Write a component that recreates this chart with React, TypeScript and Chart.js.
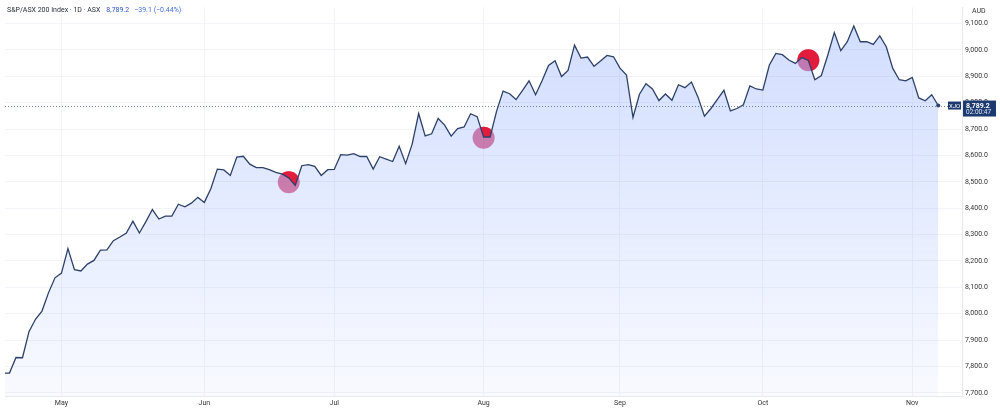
import React, { useEffect, useRef } from "react";
import { Chart, registerables } from "chart.js";

Chart.register(...registerables);

// Daily closes, S&P/ASX 200 (index 0 = mid April, last = Nov 7)
const closes: number[] = [
  7775, 7775, 7834, 7833, 7932, 7979, 8010, 8079, 8136, 8154,
  8247, 8167, 8162, 8188, 8202, 8241, 8242, 8277, 8291, 8306,
  8351, 8306, 8349, 8395, 8359, 8370, 8370, 8415, 8405, 8419,
  8441, 8422, 8474, 8548, 8545, 8524, 8594, 8597, 8567, 8554,
  8554, 8546, 8536, 8529, 8515, 8486, 8561, 8565, 8559, 8524,
  8546, 8547, 8603, 8601, 8607, 8596, 8596, 8548, 8595, 8586,
  8577, 8635, 8569, 8643, 8759, 8674, 8682, 8740, 8715, 8673,
  8702, 8708, 8758, 8747, 8670, 8670, 8768, 8844, 8834, 8812,
  8847, 8883, 8830, 8883, 8941, 8959, 8899, 8922, 9018, 8969,
  8973, 8938, 8958, 8979, 8974, 8931, 8905, 8744, 8832, 8872,
  8852, 8808, 8833, 8809, 8868, 8857, 8878, 8822, 8749, 8778,
  8813, 8847, 8769, 8778, 8792, 8864, 8852, 8848, 8943, 8987,
  8982, 8962, 8949, 8971, 8960, 8887, 8903, 8981, 9066, 8997,
  9031, 9091, 9031, 9031, 9021, 9053, 9012, 8930, 8887, 8883,
  8896, 8818, 8807, 8830, 8789.2,
];

// Month tick labels and the trading-day index at which each month starts
const monthLabels: string[] = ["May", "Jun", "Jul", "Aug", "Sep", "Oct", "Nov"];
const monthStartIdx: number[] = [9, 31, 51, 74, 95, 117, 140];

// Price axis ticks
const priceTicks: number[] = [7700, 7800, 7900, 8000, 8100, 8200, 8300, 8400, 8500, 8600, 8700, 8800, 8900, 9000, 9100];

// Event markers
const markerIdx: number[] = [44, 74, 124];
const markerValue: number[] = [8498, 8667, 8961];

const lastPrice = 8789.2;
const titleMain = "S&P/ASX 200 Index · 1D · ASX";
const titlePrice = "8,789.2";
const titleChange = "−39.1 (−0.44%)";
const symbolLabel = "XJO";
const timeLabel = "02:00:47";
const currencyLabel = "AUD";

const FONT = "Roboto, 'Noto Sans', sans-serif";

const fmt = (v: number) =>
  v.toLocaleString("en-US", { minimumFractionDigits: 1, maximumFractionDigits: 1 });

const markerPlugin = {
  id: "markers",
  beforeDatasetsDraw(chart: any) {
    const { ctx, chartArea, scales } = chart;
    const meta = chart.getDatasetMeta(0);
    const pts = meta.data;
    ctx.save();
    ctx.beginPath();
    ctx.rect(chartArea.left, chartArea.top, chartArea.right - chartArea.left, chartArea.bottom - chartArea.top);
    ctx.clip();
    markerIdx.forEach((idx, k) => {
      const cx = scales.x.getPixelForValue(idx);
      const cy = scales.y.getPixelForValue(markerValue[k]);
      ctx.beginPath();
      ctx.arc(cx, cy, 11, 0, Math.PI * 2);
      ctx.fillStyle = "rgba(214, 62, 112, 0.66)";
      ctx.fill();
      ctx.save();
      ctx.beginPath();
      ctx.moveTo(pts[0].x, chartArea.top - 5);
      for (const p of pts) ctx.lineTo(p.x, p.y);
      ctx.lineTo(pts[pts.length - 1].x, chartArea.top - 5);
      ctx.closePath();
      ctx.clip();
      ctx.beginPath();
      ctx.arc(cx, cy, 11, 0, Math.PI * 2);
      ctx.fillStyle = "rgb(226, 28, 60)";
      ctx.fill();
      ctx.restore();
    });
    ctx.restore();
  },
  afterDraw(chart: any) {
    const { ctx, chartArea, scales } = chart;
    const py = scales.y.getPixelForValue(lastPrice);
    ctx.save();
    ctx.beginPath();
    ctx.setLineDash([1, 2]);
    ctx.strokeStyle = "rgba(70, 85, 115, 0.7)";
    ctx.lineWidth = 1;
    ctx.moveTo(chartArea.left, Math.round(py) + 0.5);
    ctx.lineTo(chartArea.right, Math.round(py) + 0.5);
    ctx.stroke();
    ctx.setLineDash([]);
    ctx.fillStyle = "#1c3a70";
    ctx.fillRect(chartArea.right - 14, py - 4, 13, 8);
    ctx.fillStyle = "#ffffff";
    ctx.font = `6px ${FONT}`;
    ctx.textAlign = "center";
    ctx.textBaseline = "middle";
    ctx.fillText(symbolLabel, chartArea.right - 7.5, py + 0.5);
    ctx.fillStyle = "#1c3a70";
    ctx.fillRect(chartArea.right + 1, py - 5, 33, 16);
    ctx.fillStyle = "#ffffff";
    ctx.font = `bold 7px ${FONT}`;
    ctx.textAlign = "left";
    ctx.fillText(fmt(lastPrice), chartArea.right + 4, py + 0.5);
    ctx.font = `6.5px ${FONT}`;
    ctx.fillStyle = "#dfe6f5";
    ctx.fillText(timeLabel, chartArea.right + 4, py + 7);
    // currency label on top of axis (partly covering the top tick)
    ctx.fillStyle = "#ffffff";
    ctx.fillRect(chartArea.right + 1, 0, 37, 18.5);
    ctx.fillStyle = "#333";
    ctx.font = `7px ${FONT}`;
    ctx.textAlign = "left";
    ctx.fillText(currencyLabel, chartArea.right + 10, 11);
    // title
    ctx.font = `7px ${FONT}`;
    ctx.fillStyle = "#2a2e39";
    ctx.fillText(titleMain, 7, 10);
    let x = 7 + ctx.measureText(titleMain).width + 6;
    ctx.fillStyle = "#2a55c0";
    ctx.fillText(titlePrice, x, 10);
    x += ctx.measureText(titlePrice).width + 5;
    ctx.fillStyle = "#3f6fd8";
    ctx.fillText(titleChange, x, 10);
    ctx.restore();
  },
};

export default function App() {
  const ref = useRef<HTMLCanvasElement | null>(null);

  useEffect(() => {
    if (!ref.current) return;
    const data = closes.map((v, i) => ({ x: i, y: v }));
    const last = closes.length - 1;
    const chart = new Chart(ref.current, {
      type: "line",
      data: {
        datasets: [
          {
            data,
            borderColor: "#2d4068",
            borderWidth: 1.3,
            tension: 0,
            fill: "start",
            backgroundColor: (c: any) => {
              const area = c.chart.chartArea;
              if (!area) return "rgba(41,98,255,0.15)";
              const g = c.chart.ctx.createLinearGradient(0, area.top, 0, area.bottom);
              g.addColorStop(0, "rgba(41, 98, 255, 0.22)");
              g.addColorStop(1, "rgba(41, 98, 255, 0.03)");
              return g;
            },
            pointRadius: (c: any) => (c.dataIndex === last ? 2 : 0),
            pointBackgroundColor: "#2d4068",
            pointBorderWidth: 0,
          },
        ],
      },
      options: {
        animation: false,
        responsive: false,
        events: [],
        layout: { padding: { left: 5, top: 3, right: 0, bottom: 0 } },
        plugins: { legend: { display: false }, tooltip: { enabled: false }, title: { display: false } },
        scales: {
          x: {
            type: "linear",
            min: 0.308,
            max: 147.66,
            afterBuildTicks: (axis: any) => {
              axis.ticks = monthStartIdx.map((v) => ({ value: v }));
            },
            afterFit: (axis: any) => {
              axis.height = 14;
            },
            ticks: {
              autoSkip: false,
              maxRotation: 0,
              padding: 3,
              color: "#333",
              font: { size: 7, family: FONT },
              callback: (v: any) => {
                const k = monthStartIdx.indexOf(Number(v));
                return k >= 0 ? monthLabels[k] : "";
              },
            },
            grid: { color: "#f3f4f8", drawTicks: false },
            border: { display: true, color: "#e6e9f0" },
          },
          y: {
            type: "linear",
            position: "right",
            min: 7688,
            max: 9162,
            afterBuildTicks: (axis: any) => {
              axis.ticks = priceTicks.map((v) => ({ value: v }));
            },
            afterFit: (axis: any) => {
              axis.width = 38;
            },
            ticks: {
              padding: 3,
              color: "#333",
              font: { size: 7, family: FONT },
              callback: (v: any) => fmt(Number(v)),
            },
            grid: { color: "#f3f4f8", drawTicks: false },
            border: { display: true, color: "#e6e9f0" },
          },
        },
      },
      plugins: [markerPlugin],
    });
    return () => chart.destroy();
  }, []);

  return (
    <div style={{ position: "fixed", left: 0, top: 0, width: 1000, height: 410, background: "#fff" }}>
      <canvas ref={ref} width={1000} height={410} style={{ display: "block" }} />
    </div>
  );
}
